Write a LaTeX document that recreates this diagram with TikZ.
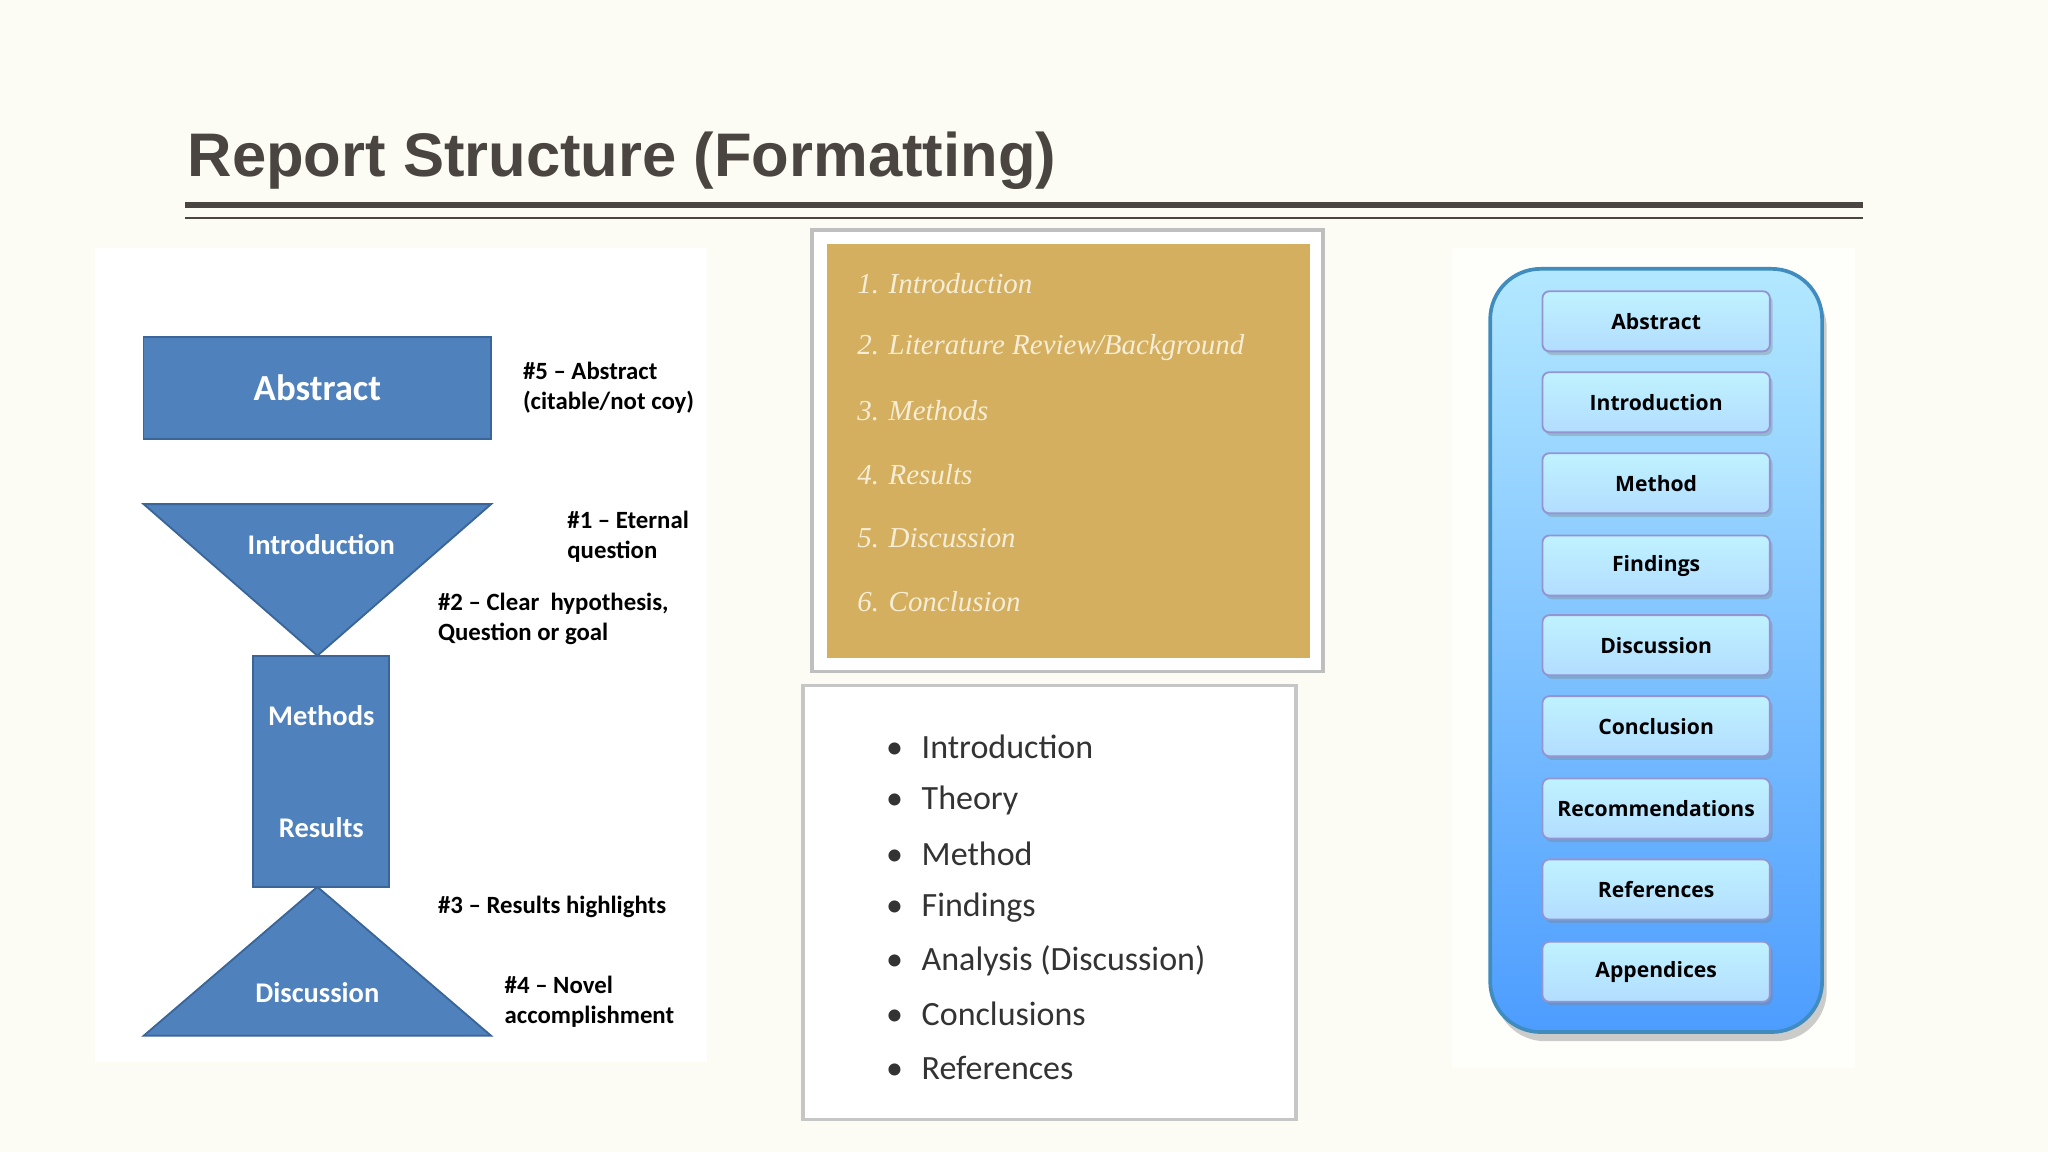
\documentclass[tikz,border=0pt]{standalone}
\usepackage{fontspec}
\setmainfont{Carlito}
\newfontfamily\tfont{Liberation Sans}
\newfontfamily\sfont{Liberation Serif}
\newfontfamily\bfont{Open Sans}
\usetikzlibrary{shadows}
\definecolor{bg}{HTML}{FCFCF4}
\definecolor{blu}{HTML}{4F81BD}
\definecolor{bluD}{HTML}{3A6598}
\definecolor{gold}{HTML}{D4AF5F}
\definecolor{cream}{HTML}{F6EDD6}
\definecolor{tgray}{HTML}{4A4540}
\begin{document}
\begin{tikzpicture}[x=0.01cm,y=-0.01cm,
 shp/.style={fill=blu,draw=bluD,line width=0.4pt},
 wt/.style={text=white,font=\fontsize{6.2}{7}\selectfont\bfseries},
 lab/.style={anchor=west,font=\fontsize{5.4}{6.5}\selectfont\bfseries,align=left},
 gi/.style={anchor=west,text=cream,font=\sfont\itshape\fontsize{6.3}{7}\selectfont},
 bl/.style={anchor=west,text=black!80,font=\fontsize{7.4}{8}\selectfont},
 btn/.style={minimum width=1.74cm,minimum height=0.46cm,inner sep=0pt,rounded corners=1.5pt,
   top color=blue!20!cyan!25!white,bottom color=blue!45!cyan!30!white,
   draw=blue!40!gray!60,drop shadow={shadow xshift=0.6pt,shadow yshift=-0.8pt,opacity=0.35},
   font=\bfont\bfseries\fontsize{4.6}{5}\selectfont}]
\useasboundingbox (0,0) rectangle (1568,882);
\fill[bg] (0,0) rectangle (1568,882);
% title
\node[anchor=base west,inner sep=0,text=tgray,font=\tfont\bfseries\fontsize{13.4}{15}\selectfont] (title) at (143,135) {Report Structure (Formatting)};
\draw[tgray,line width=1.4pt] (142,157) -- (1426,157);
\draw[tgray,line width=0.6pt] (142,167) -- (1426,167);
% left panel
\fill[white] (73,190) rectangle (541,813);
\node[shp,minimum width=2.66cm,minimum height=0.78cm,inner sep=0,wt,font=\fontsize{8}{9}\selectfont\bfseries] (abs) at (243,297) {Abstract};
\draw[shp] (110,386) -- (376,386) -- (243,502) -- cycle;
\node[wt] (intro) at (246,417) {Introduction};
\node[shp,minimum width=1.04cm,minimum height=1.77cm,inner sep=0] (mr) at (246,590.5) {};
\node[wt] (meth) at (246,548) {Methods};
\node[wt] (res) at (246,634) {Results};
\draw[shp] (243,679) -- (376,793) -- (110,793) -- cycle;
\node[wt] (disc) at (243,760) {Discussion};
\node[lab] (l5) at (388,297) {\#5 -- Abstract\\(citable/not coy)};
\node[lab] (l1) at (422,411) {\#1 -- Eternal\\question};
\node[lab] (l2) at (323,474) {\#2 -- Clear\ \ hypothesis,\\Question or goal};
\node[lab] (l3) at (323,694) {\#3 -- Results highlights};
\node[lab] (l4) at (374,767) {\#4 -- Novel\\accomplishment};
% middle top
\node[draw=gray!50,fill=white,minimum width=3.91cm,minimum height=3.38cm,inner sep=0,line width=0.8pt] (gframe) at (817.5,345) {};
\node[fill=gold,minimum width=3.70cm,minimum height=3.17cm,inner sep=0] (gbox) at (818,345.5) {};
\foreach \t [count=\i] in {1. Introduction,2. Literature Review/Background,3. Methods,4. Results,5. Discussion,6. Conclusion}
  \node[gi] (g\i) at (644,{217+48.8*(\i-1)}) {\t};
% middle bottom
\node[draw=gray!45,fill=white,minimum width=3.77cm,minimum height=3.32cm,inner sep=0,line width=0.8pt] (bbox) at (803.5,691) {};
\foreach \t [count=\i] in {Introduction,Theory,Method,Findings,Analysis (Discussion),Conclusions,References}
  \node[bl] (b\i) at (666,{572+40.9*(\i-1)}) {\textbullet\hspace{0.55em}\t};
% right panel
\fill[white!60!bg] (1112,190) rectangle (1420,818);
\node[minimum width=2.54cm,minimum height=5.84cm,inner sep=0,rounded corners=11pt,
  top color=blue!30!cyan!30!white,bottom color=blue!55!cyan!70!white,
  draw=blue!40!cyan!50!gray,line width=0.8pt,
  drop shadow={shadow xshift=1pt,shadow yshift=-2pt,opacity=0.4}] (col) at (1268,498) {};
\foreach \t/\y [count=\i] in {Abstract/246,Introduction/308,Method/370,Findings/433,Discussion/494,Conclusion/556,Recommendations/619,References/681,Appendices/744}
  \node[btn] (r\i) at (1268,\y) {\t};
\end{tikzpicture}
\end{document}
